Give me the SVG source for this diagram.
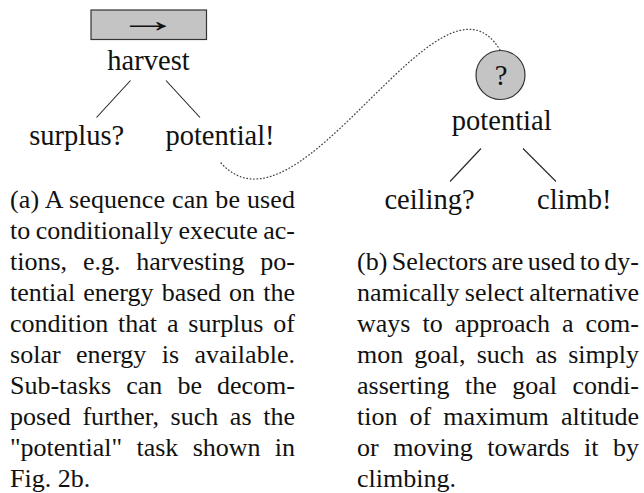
<svg xmlns="http://www.w3.org/2000/svg" width="644" height="493" viewBox="0 0 644 493">
<style>
  .lbl { font-family: "Liberation Serif", "Times New Roman", serif; font-size: 28.5px; fill: #111; text-anchor: middle; }
  .arrow { font-family: "Liberation Serif", "Times New Roman", serif; font-size: 35px; fill: #111; text-anchor: middle; }
  .cap { font-family: "Liberation Serif", "Times New Roman", serif; font-size: 26px; fill: #111; }
  .edge { stroke: #222; stroke-width: 1.1; fill: none; }
  .link { stroke: #444; stroke-width: 1.3; fill: none; stroke-dasharray: 0.6 2.8; stroke-linecap: round; }
  .shape { fill: #c4c4c4; stroke: #333; stroke-width: 1.2; }
</style>
<rect width="644" height="493" fill="#ffffff"/>
<g id="connectors">
  <line class="edge" x1="130.5" y1="80.5" x2="96.5" y2="117.5"/>
  <line class="edge" x1="166" y1="80.5" x2="200" y2="117.5"/>
  <line class="edge" x1="481" y1="148.5" x2="450" y2="181.5"/>
  <line class="edge" x1="523" y1="148.5" x2="556" y2="181.5"/>
  <path class="link" d="M221,163 C300,250 440,-50 500,50"/>
</g>
<g id="node-harvest">
  <rect class="shape" x="91" y="10" width="115.5" height="29.5"/>
  <text class="arrow" transform="translate(148,31.8) scale(1.75,1)" x="0" y="0">→</text>
  <text class="lbl" x="148.5" y="69.5">harvest</text>
</g>
<g id="node-surplus">
  <text class="lbl" x="76.7" y="145">surplus?</text>
</g>
<g id="node-potential-action">
  <text class="lbl" x="220" y="145">potential!</text>
</g>
<g id="node-potential">
  <circle class="shape" cx="500.5" cy="75" r="24.5"/>
  <text class="lbl" x="501" y="84.5">?</text>
  <text class="lbl" x="501.7" y="130">potential</text>
</g>
<g id="node-ceiling">
  <text class="lbl" x="429.5" y="209.3">ceiling?</text>
</g>
<g id="node-climb">
  <text class="lbl" x="574.2" y="209.3">climb!</text>
</g>
<g id="caption-a">
  <text class="cap" x="10" y="207.5" word-spacing="0.26" textLength="285" lengthAdjust="spacing">(a) A sequence can be used</text>
  <text class="cap" x="10" y="238.5" word-spacing="-1.03" textLength="285" lengthAdjust="spacing">to conditionally execute ac-</text>
  <text class="cap" x="10" y="269.5" word-spacing="9.3" textLength="285" lengthAdjust="spacing">tions, e.g. harvesting po-</text>
  <text class="cap" x="10" y="300.5" word-spacing="1.57" textLength="285" lengthAdjust="spacing">tential energy based on the</text>
  <text class="cap" x="10" y="331.5" word-spacing="3.37" textLength="285" lengthAdjust="spacing">condition that a surplus of</text>
  <text class="cap" x="10" y="362.5" word-spacing="8.83" textLength="285" lengthAdjust="spacing">solar energy is available.</text>
  <text class="cap" x="10" y="393.5" word-spacing="8.6" textLength="285" lengthAdjust="spacing">Sub-tasks can be decom-</text>
  <text class="cap" x="10" y="424.5" word-spacing="5.0" textLength="285" lengthAdjust="spacing">posed further, such as the</text>
  <text class="cap" x="10" y="455.5" word-spacing="7.77" textLength="285" lengthAdjust="spacing">"potential" task shown in</text>
  <text class="cap" x="10" y="486.5">Fig. 2b.</text>
</g>
<g id="caption-b">
  <text class="cap" x="357" y="269.5" word-spacing="-2.08" textLength="282" lengthAdjust="spacing">(b) Selectors are used to dy-</text>
  <text class="cap" x="357" y="300.5" word-spacing="-1.25" textLength="282" lengthAdjust="spacing">namically select alternative</text>
  <text class="cap" x="357" y="331.5" word-spacing="5.5" textLength="282" lengthAdjust="spacing">ways to approach a com-</text>
  <text class="cap" x="357" y="362.5" word-spacing="4.6" textLength="282" lengthAdjust="spacing">mon goal, such as simply</text>
  <text class="cap" x="357" y="393.5" word-spacing="9.0" textLength="282" lengthAdjust="spacing">asserting the goal condi-</text>
  <text class="cap" x="357" y="424.5" word-spacing="5.6" textLength="282" lengthAdjust="spacing">tion of maximum altitude</text>
  <text class="cap" x="357" y="455.5" word-spacing="8.0" textLength="282" lengthAdjust="spacing">or moving towards it by</text>
  <text class="cap" x="357" y="486.5">climbing.</text>
</g>
</svg>
